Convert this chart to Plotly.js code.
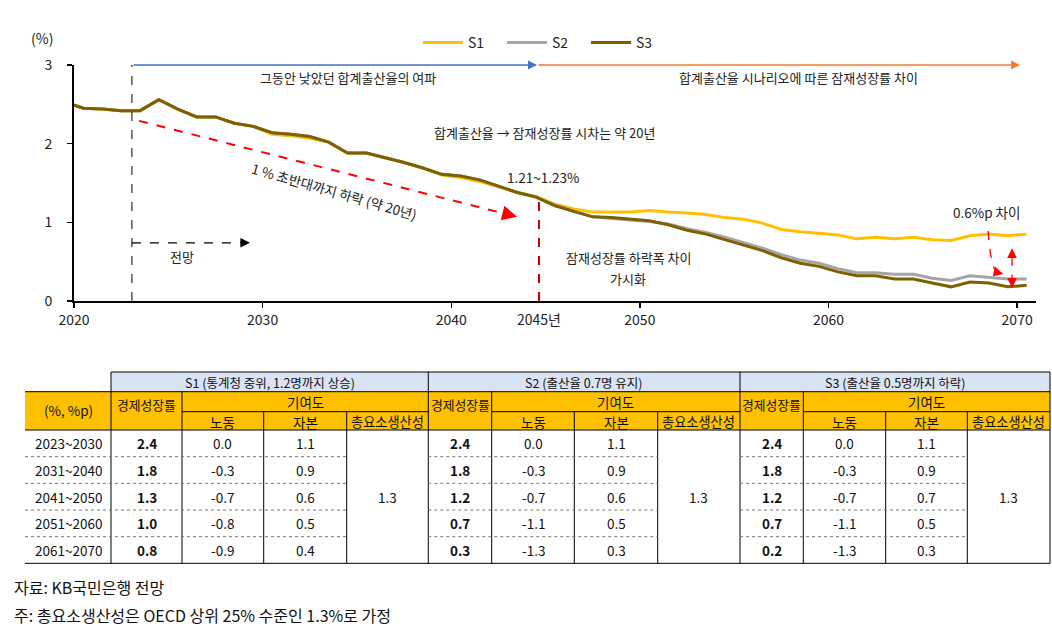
<!DOCTYPE html>
<html><head><meta charset="utf-8">
<script src="https://cdn.plot.ly/plotly-3.0.1.min.js"></script>
<style>html,body{margin:0;padding:0;background:#fff;}#chart{width:1052px;height:629px;}</style>
</head><body><div id="chart"></div>
<script>
// ---------- DATA ----------
const years = [2019,2020,2021,2022,2023,2024,2025,2026,2027,2028,2029,2030,2031,2032,2033,2034,2035,2036,2037,2038,2039,2040,2041,2042,2043,2044,2045,2046,2047,2048,2049,2050,2051,2052,2053,2054,2055,2056,2057,2058,2059,2060,2061,2062,2063,2064,2065,2066,2067,2068,2069,2070];
const s1 = [2.53,2.45,2.44,2.42,2.42,2.56,2.44,2.34,2.34,2.26,2.22,2.12,2.10,2.07,2.02,1.88,1.88,1.82,1.76,1.69,1.60,1.57,1.52,1.45,1.38,1.33,1.23,1.17,1.13,1.13,1.13,1.15,1.13,1.12,1.10,1.06,1.04,0.99,0.91,0.88,0.86,0.84,0.79,0.81,0.79,0.81,0.78,0.77,0.83,0.85,0.83,0.85];
const s2 = [2.53,2.45,2.44,2.42,2.42,2.56,2.44,2.34,2.34,2.26,2.22,2.14,2.12,2.09,2.02,1.88,1.88,1.82,1.76,1.69,1.61,1.59,1.54,1.46,1.38,1.32,1.22,1.14,1.07,1.05,1.03,1.01,0.98,0.92,0.87,0.81,0.74,0.67,0.59,0.52,0.48,0.41,0.36,0.36,0.34,0.34,0.29,0.26,0.32,0.30,0.28,0.28];
const s3 = [2.53,2.45,2.44,2.42,2.42,2.56,2.44,2.34,2.34,2.26,2.22,2.14,2.12,2.09,2.02,1.88,1.88,1.82,1.76,1.69,1.61,1.59,1.54,1.46,1.38,1.32,1.21,1.14,1.07,1.06,1.04,1.02,0.97,0.90,0.85,0.78,0.71,0.64,0.55,0.48,0.44,0.37,0.32,0.32,0.28,0.28,0.23,0.18,0.24,0.23,0.18,0.20];
const seriesNames = ['S1','S2','S3'];
const xTicks = [2020,2030,2040,2050,2060,2070];
const yTicks = [0,1,2,3];

// table data
const periods = ['2023~2030','2031~2040','2041~2050','2051~2060','2061~2070'];
const scenarioTitles = ['S1 (통계청 중위, 1.2명까지 상승)','S2 (출산율 0.7명 유지)','S3 (출산율 0.5명까지 하락)'];
const s1Growth = ['2.4','1.8','1.3','1.0','0.8'];
const s1Labor = ['0.0','-0.3','-0.7','-0.8','-0.9'];
const s1Capital = ['1.1','0.9','0.6','0.5','0.4'];
const s2Growth = ['2.4','1.8','1.2','0.7','0.3'];
const s2Labor = ['0.0','-0.3','-0.7','-1.1','-1.3'];
const s2Capital = ['1.1','0.9','0.6','0.5','0.3'];
const s3Growth = ['2.4','1.8','1.2','0.7','0.2'];
const s3Labor = ['0.0','-0.3','-0.7','-1.1','-1.3'];
const s3Capital = ['1.1','0.9','0.7','0.5','0.3'];
const tfp = ['1.3','1.3','1.3'];
const colHeaders = ['경제성장률','기여도','노동','자본','총요소생산성'];
const unitLabel = '(%, %p)';
const notes = ['자료: KB국민은행 전망','주: 총요소생산성은 OECD 상위 25% 수준인 1.3%로 가정'];

// ---------- LAYOUT HELPERS ----------
const W = 1052, H = 629;
const PX = p => p / W;
const PY = p => 1 - p / H;
const FONT = '"Noto Sans CJK KR", "Noto Sans", sans-serif';
const TXT = '#222';
const xMid = years.map(y => y + 0.5);

const colors = ['#FFC000','#A5A5A5','#7F6000'];
const traces = [s1, s2, s3].map((vals, i) => ({
  x: xMid, y: vals, type: 'scatter', mode: 'lines', name: seriesNames[i],
  line: {color: colors[i], width: 3}, hoverinfo: 'skip'
}));

const shapes = [];
const ann = [];

// chart decorations (data coords)
shapes.push({type:'line', xref:'x', yref:'y', x0:2023.07, x1:2023.07, y0:0, y1:3, line:{color:'#000', width:1, dash:'dash'}});
shapes.push({type:'line', xref:'x', yref:'y', x0:2023.07, x1:2029.0, y0:0.74, y1:0.74, line:{color:'#000', width:1.2, dash:'dash'}});
shapes.push({type:'line', xref:'x', yref:'y', x0:2023.45, x1:2043.0, y0:2.29, y1:1.10, line:{color:'#FF0000', width:2, dash:'dash'}});
shapes.push({type:'line', xref:'x', yref:'y', x0:2044.65, x1:2044.65, y0:0, y1:1.35, line:{color:'#C00000', width:2, dash:'dash'}});
shapes.push({type:'path', xref:'x', yref:'y', path:'M 2068.46 0.89 Q 2068.62 0.37 2069.0 0.36', line:{color:'#FF0000', width:1.3, dash:'dash'}});
shapes.push({type:'line', xref:'x', yref:'y', x0:2069.73, x1:2069.73, y0:0.22, y1:0.62, line:{color:'#FF0000', width:1.3, dash:'dash'}});

// arrows
ann.push({x:2044.55, y:3, ax:2023.07, ay:3, axref:'x', ayref:'y', xref:'x', yref:'y', text:'', showarrow:true, arrowhead:2, arrowsize:1.4, arrowwidth:1.3, arrowcolor:'#4472C4'});
ann.push({x:2070.16, y:3, ax:2044.55, ay:3, axref:'x', ayref:'y', xref:'x', yref:'y', text:'', showarrow:true, arrowhead:2, arrowsize:1.4, arrowwidth:1.3, arrowcolor:'#ED7D31'});
ann.push({x:2029.33, y:0.74, ax:-9, ay:0, xref:'x', yref:'y', text:'', showarrow:true, arrowhead:2, arrowsize:1.6, arrowwidth:1.2, arrowcolor:'#000'});
ann.push({x:2043.49, y:1.07, ax:-11.6, ay:-3, xref:'x', yref:'y', text:'', showarrow:true, arrowhead:2, arrowsize:1.5, arrowwidth:2, arrowcolor:'#FF0000'});
ann.push({x:2069.27, y:0.344, ax:-8, ay:-2, xref:'x', yref:'y', text:'', showarrow:true, arrowhead:2, arrowsize:1.5, arrowwidth:1.3, arrowcolor:'#FF0000'});
ann.push({x:2069.73, y:0.67, ax:0, ay:8, xref:'x', yref:'y', text:'', showarrow:true, arrowhead:2, arrowsize:1.5, arrowwidth:1.3, arrowcolor:'#FF0000'});
ann.push({x:2069.73, y:0.17, ax:0, ay:-8, xref:'x', yref:'y', text:'', showarrow:true, arrowhead:2, arrowsize:1.5, arrowwidth:1.3, arrowcolor:'#FF0000'});

// chart texts
const chartTexts = [
  ['그동안 낮았던 합계출산율의 여파', 2034.53, 2.84, 0, 13],
  ['합계출산율 시나리오에 따른 잠재성장률 차이', 2058.39, 2.84, 0, 13],
  ['합계출산율 → 잠재성장률 시차는 약 20년', 2044.92, 2.14, 0, 13],
  ['1.21~1.23%', 2044.87, 1.58, 0, 13.5],
  ['1 % 초반대까지 하락 (약 20년)', 2033.79, 1.40, 16, 13.5],
  ['전망', 2025.73, 0.56, 0, 13],
  ['잠재성장률 하락폭 차이', 2049.37, 0.55, 0, 13],
  ['가시화', 2049.37, 0.29, 0, 13],
  ['0.6%p 차이', 2068.36, 1.13, 0, 13.5]
];
chartTexts.forEach(t => ann.push({text:t[0], x:t[1], y:t[2], xref:'x', yref:'y', xanchor:'center', yanchor:'middle', showarrow:false, textangle:t[3], font:{family:FONT, size:t[4], color:TXT}}));
ann.push({text:'2045년', x:2044.65, y:0, xref:'x', yref:'y', xanchor:'center', yanchor:'top', yshift:-6, showarrow:false, font:{family:FONT, size:14, color:TXT}});
ann.push({text:'(%)', x:PX(42), y:PY(38), xref:'paper', yref:'paper', xanchor:'center', yanchor:'middle', showarrow:false, font:{family:FONT, size:14, color:TXT}});

// ---------- TABLE ----------
const rowY = [430, 456.67, 483.33, 510, 536.67, 563.33];
const blocks = [
  [111, 182, 263.7, 346.7, 428.3],
  [428.3, 491.7, 574.3, 657.7, 740],
  [740, 803.3, 885.7, 967.3, 1050]
];
const blockData = [[s1Growth, s1Labor, s1Capital],[s2Growth, s2Labor, s2Capital],[s3Growth, s3Labor, s3Capital]];
const L = 25, R = 1050, T0 = 372, T1 = 391.7, T2 = 411.7, T3 = 430;
const TS = 13.5;
const rect = (x0,y0,x1,y1,fill) => shapes.push({type:'rect', xref:'paper', yref:'paper', x0:PX(x0), x1:PX(x1), y0:PY(y0), y1:PY(y1), fillcolor:fill, line:{width:0}, layer:'below'});
const hline = (x0,x1,y,opt) => shapes.push({type:'line', xref:'paper', yref:'paper', x0:PX(x0), x1:PX(x1), y0:PY(y), y1:PY(y), line:Object.assign({color:'#000', width:1}, opt||{})});
const vline = (x,y0,y1,opt) => shapes.push({type:'line', xref:'paper', yref:'paper', x0:PX(x), x1:PX(x), y0:PY(y0), y1:PY(y1), line:Object.assign({color:'#000', width:1}, opt||{})});
const txt = (s,x,y,size,bold) => ann.push({text: bold ? '<b>'+s+'</b>' : s, x:PX(x), y:PY(y), xref:'paper', yref:'paper', xanchor:'center', yanchor:'middle', showarrow:false, font:{family:FONT, size:size||TS, color:'#111'}});

rect(111, T0, R, T1, '#DAE3F3');
rect(L, T1, R, T3, '#FFC000');
hline(111, R, T0);
hline(L, R, T1);
hline(L, R, T3);
hline(L, R, rowY[5]);
vline(111, T0, rowY[5]);
txt(unitLabel, (L+111)/2, 410);
periods.forEach((p,i) => txt(p, (L+111)/2, (rowY[i]+rowY[i+1])/2));
blocks.forEach((b, k) => {
  vline(b[4], T0, rowY[5]);
  vline(b[1], T1, rowY[5]);
  vline(b[2], T2, rowY[5]);
  vline(b[3], T2, rowY[5]);
  hline(b[1], b[4], T2);
  txt(scenarioTitles[k], (b[0]+b[4])/2, (T0+T1)/2 + 0.5, 12.5);
  txt(colHeaders[0], (b[0]+b[1])/2, 404, 12.8);
  txt(colHeaders[1], (b[1]+b[4])/2, (T1+T2)/2, 13.5);
  txt(colHeaders[2], (b[1]+b[2])/2, (T2+T3)/2 + 1, 13.5);
  txt(colHeaders[3], (b[2]+b[3])/2, (T2+T3)/2 + 1, 13.5);
  txt(colHeaders[4], (b[3]+b[4])/2, (T2+T3)/2 + 1, 13.2);
  const d = blockData[k];
  for (let i = 0; i < 5; i++) {
    const cy = (rowY[i]+rowY[i+1])/2;
    txt(d[0][i], (b[0]+b[1])/2, cy, TS, true);
    txt(d[1][i], (b[1]+b[2])/2, cy);
    txt(d[2][i], (b[2]+b[3])/2, cy);
  }
  txt(tfp[k], (b[3]+b[4])/2, (rowY[0]+rowY[5])/2);
  for (let i = 1; i < 5; i++) {
    hline(k === 0 ? L : b[0], b[3], rowY[i], {color:'#777', width:1, dash:'dot'});
  }
});

// notes
notes.forEach((n,i) => ann.push({text:n, x:PX(12), y:PY(587 + i*28), xref:'paper', yref:'paper', xanchor:'left', yanchor:'middle', showarrow:false, font:{family:FONT, size:16, color:'#111'}}));

const layout = {
  width: W, height: H,
  margin: {l:0, r:0, t:0, b:0},
  paper_bgcolor: '#fff', plot_bgcolor: 'rgba(0,0,0,0)',
  font: {family: FONT, color: TXT},
  showlegend: true,
  legend: {orientation:'h', x:PX(418), y:PY(43), yanchor:'middle', xanchor:'left', entrywidth:29, entrywidthmode:'pixels', itemwidth:40, font:{family:FONT, size:14, color:TXT}, bgcolor:'rgba(0,0,0,0)'},
  xaxis: {domain:[PX(74), PX(1036)], range:[2020, 2071], tickvals:xTicks, ticks:'outside', ticklen:5, tickwidth:1.5, tickcolor:'#000',
          showline:true, linecolor:'#000', linewidth:2, showgrid:false, zeroline:false, fixedrange:true,
          tickfont:{family:FONT, size:14, color:TXT}, anchor:'y'},
  yaxis: {domain:[PY(301), PY(65)], range:[0, 3], tickvals:yTicks, ticks:'outside', ticklen:5, tickwidth:1.5, tickcolor:'#000',
          showline:true, linecolor:'#000', linewidth:2, showgrid:false, zeroline:false, fixedrange:true,
          tickfont:{family:FONT, size:14, color:TXT}, ticklabelstandoff:12, anchor:'x'},
  shapes: shapes,
  annotations: ann
};
Plotly.newPlot('chart', traces, layout, {displayModeBar:false, staticPlot:true});
</script>
</body></html>
